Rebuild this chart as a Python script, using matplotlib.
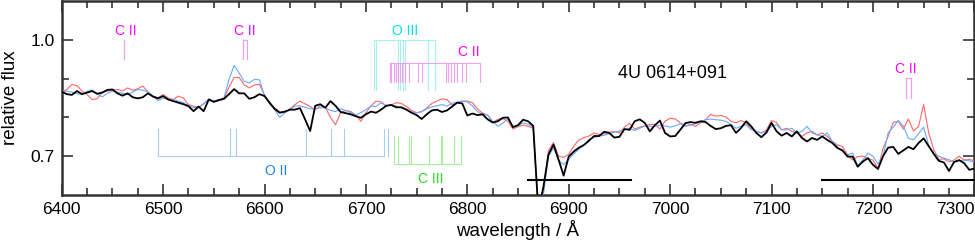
import numpy as np
import matplotlib
matplotlib.use("Agg")
import matplotlib.pyplot as plt
from matplotlib.ticker import FixedLocator

plt.rcParams['font.family'] = ['Liberation Sans', 'DejaVu Sans']

wave = np.arange(6400, 7301, 5)

flux_black = [
    .866, .860, .858, .868, .860, .864, .868, .861, .864, .871,
    .872, .862, .856, .862, .852, .849, .852, .862, .854, .849,
    .855, .846, .842, .838, .834, .829, .816, .828, .816, .846,
    .840, .845, .848, .860, .873, .862, .862, .848, .852, .860,
    .855, .838, .822, .812, .815, .820, .820, .824, .795, .765,
    .830, .834, .825, .842, .830, .814, .811, .808, .803, .799,
    .808, .815, .812, .820, .830, .832, .826, .826, .820, .812,
    .806, .796, .808, .818, .820, .814, .818, .828, .838, .836,
    .805, .810, .806, .808, .795, .787, .790, .799, .800, .775,
    .780, .794, .790, .778, .560, .620, .704, .730, .691, .650,
    .699, .712, .722, .729, .740, .752, .752, .763, .760, .748,
    .750, .770, .768, .790, .795, .786, .764, .780, .792, .760,
    .751, .752, .768, .785, .788, .786, .790, .788, .778, .770,
    .772, .778, .780, .760, .773, .790, .777, .760, .749, .761,
    .786, .764, .753, .760, .751, .764, .747, .738, .747, .742,
    .751, .742, .734, .721, .715, .699, .699, .673, .686, .695,
    .678, .667, .700, .722, .724, .706, .715, .724, .718, .734,
    .746, .726, .706, .688, .684, .662, .685, .690, .682, .665,
    .668,
]

flux_red = [
    .866, .872, .885, .882, .868, .859, .846, .848, .865, .868,
    .870, .872, .868, .876, .870, .874, .881, .865, .853, .851,
    .859, .850, .846, .855, .850, .833, .829, .826, .835, .846,
    .843, .842, .848, .878, .903, .903, .884, .876, .884, .885,
    .858, .835, .824, .815, .812, .822, .833, .842, .835, .828,
    .820, .830, .826, .800, .781, .812, .818, .815, .806, .790,
    .812, .830, .842, .840, .830, .832, .838, .836, .828, .818,
    .812, .815, .824, .836, .842, .848, .846, .832, .838, .842,
    .842, .838, .822, .811, .806, .786, .795, .797, .790, .770,
    .776, .780, .777, .772, .560, .610, .715, .735, .700, .697,
    .705, .726, .742, .748, .752, .760, .756, .758, .762, .764,
    .760, .775, .785, .770, .775, .778, .782, .782, .770, .790,
    .798, .796, .786, .777, .782, .777, .786, .794, .808, .803,
    .805, .801, .790, .786, .792, .786, .772, .764, .760, .768,
    .792, .787, .768, .772, .764, .760, .751, .760, .764, .755,
    .760, .751, .738, .729, .725, .703, .690, .699, .700, .695,
    .690, .668, .720, .751, .787, .790, .770, .796, .765, .777,
    .833, .760, .717, .692, .693, .686, .690, .700, .690, .692,
    .688,
]

flux_blue = [
    .863, .868, .865, .861, .860, .867, .871, .860, .853, .862,
    .868, .865, .862, .859, .865, .872, .870, .866, .855, .843,
    .850, .847, .846, .842, .838, .830, .825, .826, .835, .848,
    .842, .845, .850, .898, .934, .914, .893, .889, .898, .897,
    .855, .836, .820, .800, .812, .820, .829, .830, .826, .822,
    .822, .825, .825, .818, .815, .822, .818, .812, .806, .812,
    .820, .829, .828, .838, .830, .832, .829, .825, .820, .814,
    .812, .815, .822, .827, .830, .833, .829, .837, .839, .842,
    .840, .830, .815, .808, .806, .790, .777, .785, .797, .775,
    .778, .786, .782, .775, .560, .600, .700, .722, .690, .678,
    .692, .706, .718, .728, .744, .748, .752, .754, .758, .762,
    .765, .768, .772, .766, .772, .778, .777, .777, .780, .778,
    .775, .778, .784, .778, .780, .784, .790, .794, .796, .794,
    .793, .790, .782, .772, .777, .781, .768, .764, .760, .764,
    .777, .781, .768, .768, .772, .760, .764, .777, .760, .755,
    .751, .760, .738, .725, .712, .704, .708, .675, .690, .708,
    .700, .680, .700, .760, .775, .792, .778, .746, .742, .758,
    .775, .728, .706, .700, .695, .691, .685, .688, .690, .688,
    .685,
]

x_ticks = [6400, 6500, 6600, 6700, 6800, 6900, 7000, 7100, 7200, 7300]
y_ticks = [0.7, 1.0]

# line identifications (wavelengths in Angstrom)
cii_single = [6461.5]
cii_pair1 = [6578.7, 6582.6]
cii_pair2 = [7232.6, 7237.5]
oiii_lines = [6707.6, 6710.0, 6731.7, 6734.0, 6736.6, 6738.9, 6760.9, 6768.4]
cii_group = [6723.4, 6725.0, 6727.3, 6730.0, 6731.7, 6734.0, 6735.6, 6738.9,
             6742.5, 6751.0, 6755.4, 6779.4, 6781.0, 6783.6, 6786.6, 6789.9,
             6794.9, 6799.1, 6812.2]
oii_lines = [6495.4, 6565.5, 6571.8, 6640.9, 6665.8, 6678.0, 6717.5, 6721.4]
ciii_lines = [6727.3, 6731.3, 6742.5, 6744.1, 6762.3, 6774.1, 6774.7, 6786.9, 6793.9]
telluric = [(6859.6, 6961.0), (7149.6, 7300.0)]

fig = plt.figure(figsize=(9.75, 2.44), dpi=100)
ax = fig.add_axes([0.0633, 0.2008, 0.936, 0.795])

ax.plot(wave, flux_red, color='#ff6666', lw=0.8, zorder=3)
ax.plot(wave, flux_blue, color='#66aaff', lw=0.8, zorder=3)
ax.plot(wave, flux_black, color='black', lw=1.3, zorder=4)

cii_lc = '#f4a0f0'
cii_tc = '#ff00ff'

def bracket(lines, ytop, ybot, color, horiz_at, lw=0.8):
    for w in lines:
        ax.plot([w, w], [ybot, ytop], color=color, lw=lw, zorder=2)
    ax.plot([min(lines), max(lines)], [horiz_at, horiz_at], color=color, lw=lw, zorder=2)

# C II single
ax.plot([cii_single[0]] * 2, [0.951, 1.0], color=cii_lc, lw=0.9)
ax.text(6463.5, 1.022, 'C II', color=cii_tc, fontsize=10, ha='center', va='center')
# C II pair 6580
bracket(cii_pair1, 1.0, 0.951, cii_lc, 1.0, lw=0.9)
ax.text(6581, 1.022, 'C II', color=cii_tc, fontsize=10, ha='center', va='center')
# O III
bracket(oiii_lines, 1.0, 0.870, '#a8f0f0', 1.0)
ax.text(6738.9, 1.023, 'O III', color='#00e0e8', fontsize=10, ha='center', va='center')
# C II group
bracket(cii_group, 0.941, 0.892, cii_lc, 0.941)
ax.text(6801, 0.968, 'C II', color=cii_tc, fontsize=10, ha='center', va='center')
# O II
for w in oii_lines:
    ax.plot([w, w], [0.700, 0.771], color='#a8ccf4', lw=0.8, zorder=2)
ax.plot([oii_lines[0], oii_lines[-2]], [0.700, 0.700], color='#a8ccf4', lw=0.8, zorder=2)
ax.text(6611.5, 0.662, 'O II', color='#2080f0', fontsize=10, ha='center', va='center')
# C III
for w in ciii_lines:
    ax.plot([w, w], [0.680, 0.751], color='#a8f0a0', lw=0.8, zorder=2)
ax.plot([ciii_lines[0], ciii_lines[-1]], [0.680, 0.680], color='#a8f0a0', lw=0.8, zorder=2)
ax.text(6763.6, 0.641, 'C III', color='#20e020', fontsize=10, ha='center', va='center')
# C II pair 7235
bracket(cii_pair2, 0.901, 0.850, cii_lc, 0.901, lw=0.9)
ax.text(7232.4, 0.924, 'C II', color=cii_tc, fontsize=10, ha='center', va='center')

# telluric bands
for a, b in telluric:
    ax.plot([a, b], [0.639, 0.639], color='black', lw=1.5, zorder=5, clip_on=False)

ax.text(7002.6, 0.914, '4U 0614+091', fontsize=13, ha='center', va='center')

ax.set_xlim(6400, 7300)
ax.set_ylim(0.6, 1.1)
ax.xaxis.set_major_locator(FixedLocator(x_ticks))
ax.xaxis.set_minor_locator(FixedLocator([t + d for t in x_ticks[:-1] for d in (25, 50, 75)]))
ax.yaxis.set_major_locator(FixedLocator(y_ticks))
ax.yaxis.set_minor_locator(FixedLocator([0.8, 0.9]))
ax.set_xticklabels([str(t) for t in x_ticks])
ax.set_yticklabels(['%.1f' % t for t in y_ticks])

spc = '#333333'
for s in ax.spines.values():
    s.set_color(spc)
    s.set_linewidth(1.8)
ax.tick_params(which='both', direction='in', top=True, right=True, color=spc, width=1.2,
               labelsize=12.5, pad=5)
ax.tick_params(which='major', length=8)
ax.tick_params(which='minor', length=5)

ax.get_xticklabels()[-1].set_horizontalalignment('right')

ax.set_xlabel('wavelength / Å', fontsize=13.5, labelpad=2)
ax.set_ylabel('relative flux', fontsize=13.5, labelpad=8)

fig.savefig('out.png', dpi=100)
